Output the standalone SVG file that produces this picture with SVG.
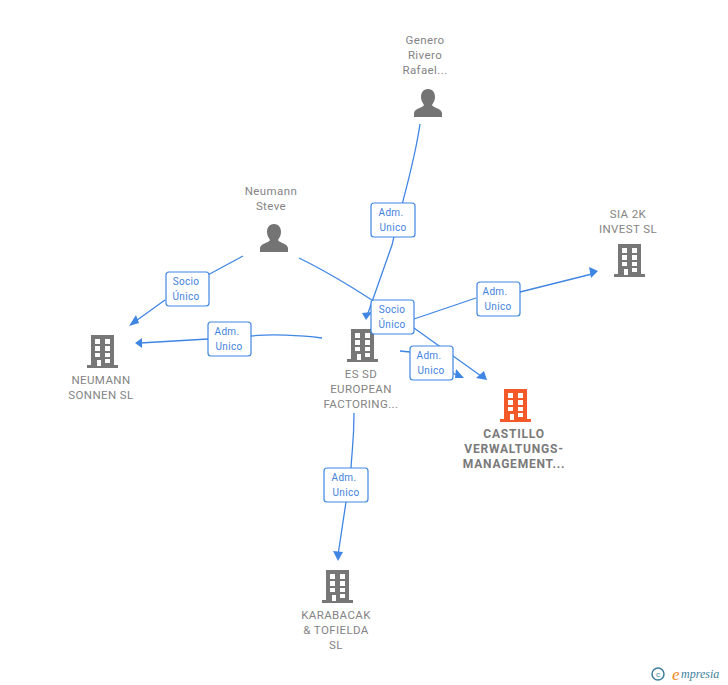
<svg xmlns="http://www.w3.org/2000/svg" width="728" height="685" viewBox="0 0 728 685">
<style>
text{font-family:"Roboto","Liberation Sans",Arial,sans-serif}
.n{font-size:11.5px;fill:#848484;text-anchor:middle;letter-spacing:.4px}
.o{font-size:12px;fill:#7a7a7a;text-anchor:middle;font-weight:700;letter-spacing:.8px}
.l{font-size:10px;fill:#3f82e0;text-anchor:middle;letter-spacing:.3px}
.c{fill:none;stroke:#3f86e4;stroke-width:1.3}
.b{fill:#fff;stroke:#3f86e4;stroke-width:1.2}
.h{fill:#3f86e4}
.w{fill:#fff}
</style>
<defs>
<g id="bld"><path d="M-12 -16H11V14H15V17H-16V14H-12Z"/><g fill="#fff"><rect x="-8" y="-12" width="5" height="5"/><rect x="2" y="-12" width="5" height="5"/><rect x="-8" y="-5" width="5" height="5"/><rect x="2" y="-5" width="5" height="5"/><rect x="-8" y="2" width="5" height="4"/><rect x="2" y="2" width="5" height="4"/><rect x="-6" y="9" width="4" height="6"/><rect x="2" y="8" width="5" height="4"/></g></g>
<path id="psn" d="M0 -14C5 -14 7 -10 7 -6C7 -2 5 0 4 2C5 5 13 5 14 10V14H-14V10C-13 5 -5 5 -4 2C-5 0 -7 -2 -7 -6C-7 -10 -5 -14 0 -14Z" fill="#747474"/>
</defs>
<g id="connectors">
<path class="c" d="M420 124C414 165 405 190 392 245L367 316"/>
<path class="h" d="M362 313L372 312L366 320Z"/>
<path class="c" d="M299 258C340 278 375 302 414 328L481 376"/>
<path class="h" d="M487 380L476 378L484 371Z"/>
<path class="c" d="M243 256L193 283M165 300L133 323"/>
<path class="h" d="M129 326L136 315L139 323Z"/>
<path class="c" d="M322 338C300 335 270 334 251 336M208 339L140 343"/>
<path class="h" d="M135 343L142 338L142 348Z"/>
<path class="c" d="M414 319L476 298M520 292L592 274"/>
<path class="h" d="M598 271L589 267L591 278Z"/>
<path class="c" d="M400 351L410 352M453 373L458 376"/>
<path class="h" d="M464 378L456 369L455 378Z"/>
<path class="c" d="M354 413C354 440 352 450 351 468M346 502L338 555"/>
<path class="h" d="M338 561L333 551L343 552Z"/>
</g>
<g id="node-genero"><text class="n" x="425" y="44">Genero</text><text class="n" x="425" y="59">Rivero</text><text class="n" x="425" y="74">Rafael...</text><use href="#psn" x="428" y="103"/></g>
<g id="node-neumann-steve"><text class="n" x="271" y="195">Neumann</text><text class="n" x="271" y="210">Steve</text><use href="#psn" x="274" y="238"/></g>
<g id="node-sia"><text class="n" x="628" y="218">SIA 2K</text><text class="n" x="628" y="233">INVEST  SL</text><use href="#bld" x="630" y="260" fill="#777"/></g>
<g id="node-neumann-sonnen"><use href="#bld" x="103" y="351" fill="#777"/><text class="n" x="101" y="384">NEUMANN</text><text class="n" x="101" y="399">SONNEN  SL</text></g>
<g id="node-essd"><use href="#bld" x="363" y="345" fill="#777"/><text class="n" x="361" y="378">ES SD</text><text class="n" x="361" y="393">EUROPEAN</text><text class="n" x="361" y="408">FACTORING...</text></g>
<g id="node-castillo"><use href="#bld" x="516" y="405" fill="#f4592a"/><text class="o" x="514" y="438">CASTILLO</text><text class="o" x="514" y="453">VERWALTUNGS-</text><text class="o" x="514" y="468">MANAGEMENT...</text></g>
<g id="node-karabacak"><use href="#bld" x="338" y="586" fill="#777"/><text class="n" x="336" y="619">KARABACAK</text><text class="n" x="336" y="634">&amp; TOFIELDA</text><text class="n" x="336" y="649">SL</text></g>
<g id="label-1"><rect class="b" x="371" y="203" width="44" height="34" rx="3"/><text class="l" x="391" y="216">Adm.</text><text class="l" x="393" y="231">Unico</text></g>
<g id="label-2"><rect class="b" x="166" y="272" width="43" height="34" rx="3"/><text class="l" x="186" y="285">Socio</text><text class="l" x="186" y="300">Único</text></g>
<g id="label-3"><rect class="b" x="208" y="322" width="43" height="34" rx="3"/><text class="l" x="227" y="335">Adm.</text><text class="l" x="229" y="350">Unico</text></g>
<g id="label-4"><rect class="b" x="371" y="300" width="43" height="34" rx="3"/><text class="l" x="392" y="313">Socio</text><text class="l" x="392" y="328">Único</text></g>
<g id="label-5"><rect class="b" x="477" y="282" width="43" height="34" rx="3"/><text class="l" x="495" y="295">Adm.</text><text class="l" x="498" y="310">Unico</text></g>
<g id="label-6"><rect class="b" x="410" y="346" width="43" height="34" rx="3"/><text class="l" x="429" y="359">Adm.</text><text class="l" x="431" y="374">Unico</text></g>
<g id="label-7"><rect class="b" x="324" y="468" width="44" height="34" rx="3"/><text class="l" x="344" y="481">Adm.</text><text class="l" x="346" y="496">Unico</text></g>
<g id="watermark"><circle cx="658" cy="674" r="6" fill="none" stroke="#3d7f9c" stroke-width="1.5"/><text x="658" y="677" font-size="8" fill="#3d7f9c" text-anchor="middle">c</text><text x="672" y="680" font-size="17" fill="#ef8a1d" font-style="italic" style="font-family:'Liberation Serif',serif">e</text><text x="681" y="678" font-size="12" fill="#3d7f9c" font-style="italic" style="font-family:'Liberation Serif',serif">mpresia</text></g>
</svg>
